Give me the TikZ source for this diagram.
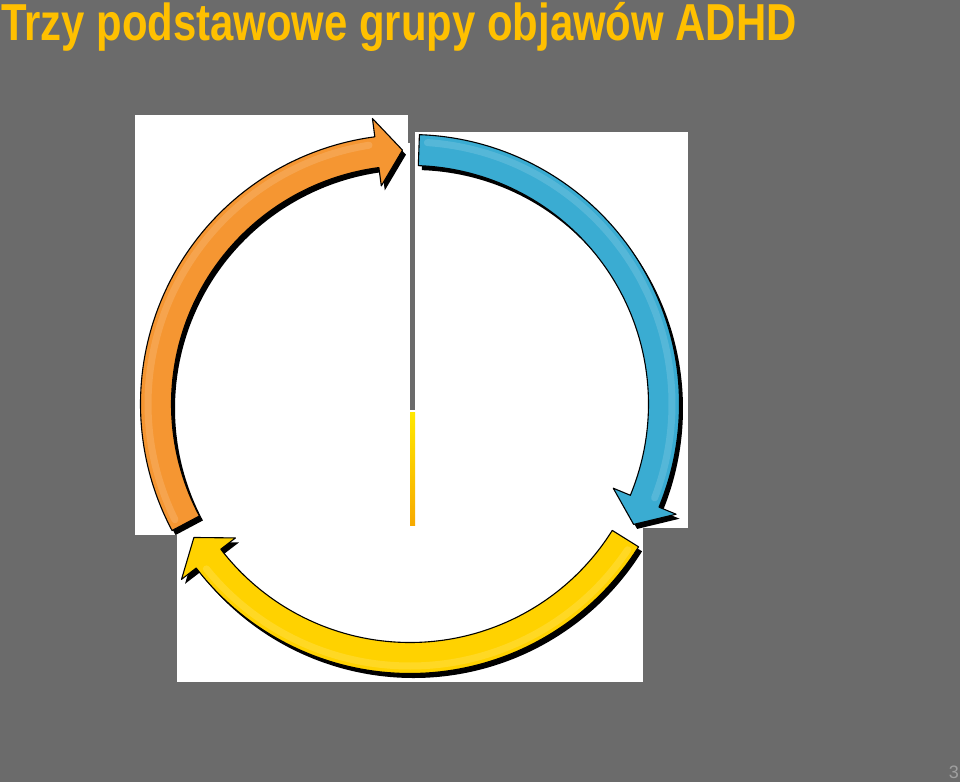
\documentclass[tikz,border=0pt]{standalone}
\usepackage{fontspec}
\setmainfont{Liberation Sans}
\usepackage{graphicx}
\definecolor{bg}{RGB}{107,107,107}
\definecolor{titlecol}{RGB}{255,192,0}
\definecolor{pagecol}{RGB}{160,160,160}
\definecolor{orangeA}{RGB}{245,150,50}
\definecolor{blueA}{RGB}{58,172,210}
\definecolor{yellowA}{RGB}{255,210,0}
\definecolor{barTop}{RGB}{255,232,0}
\definecolor{barBot}{RGB}{247,170,0}
\tikzset{
  panel/.style={fill=white},
  arrowbody/.style={line width=1.1pt, draw=black, line join=round},
  arrowshadow/.style={fill=black},
  gloss/.style={white, opacity=0.14, line width=7pt, line cap=round},
}
% #1 start angle, #2 colour
\newcommand\cyclearrow[2]{%
  \pgfmathsetmacro\cb{#1-110.5}%
  \pgfmathsetmacro\ct{#1-116.3}%
  \begin{scope}[shift={(410,404)}, yscale=-1]
    \fill[arrowshadow, shift={(3.5,-4.5)}] (#1:269.5) arc[start angle=#1, end angle=\cb, radius=269.5]
      -- (\cb:288) -- (\ct:254) -- (\cb:220) -- (\cb:238.5)
      arc[start angle=\cb, end angle=#1, radius=238.5] -- cycle;
    \filldraw[arrowbody, fill=#2] (#1:269.5) arc[start angle=#1, end angle=\cb, radius=269.5]
      -- (\cb:288) -- (\ct:254) -- (\cb:220) -- (\cb:238.5)
      arc[start angle=\cb, end angle=#1, radius=238.5] -- cycle;
    \pgfmathsetmacro\gs{#1-1.8}%
    \pgfmathsetmacro\ge{#1-109}%
    \draw[gloss] (\gs:262) arc[start angle=\gs, end angle=\ge, radius=262];
  \end{scope}%
}
\begin{document}
\begin{tikzpicture}[x=1pt, y=-1pt]
  \useasboundingbox (0,0) rectangle (960,782);
  \fill[bg] (0,0) rectangle (960,782);
  % white panels
  \fill[panel] (135,115) rectangle (408,535);
  \fill[panel] (408,143) rectangle (410,535);
  \fill[panel] (415,132) rectangle (688,528);
  \fill[panel] (177,528) rectangle (643,682);
  \fill[panel] (408,410) rectangle (415,535);
  % yellow bar
  \shade[top color=barTop, bottom color=barBot] (410,412) rectangle (415,525);
  % cycle arrows
  \cyclearrow{208}{orangeA}
  \cyclearrow{88}{blueA}
  \cyclearrow{-32}{yellowA}
  % title
  \node[anchor=base west, inner sep=0, text=titlecol,
        font=\bfseries\fontsize{52}{60}\selectfont] (title) at (1,40)
        {\scalebox{0.805}[1]{Trzy podstawowe grupy objawów ADHD}};
  % page number
  \node[anchor=base east, inner sep=0, text=pagecol,
        font=\fontsize{18}{20}\selectfont] (pnum) at (959,778) {3};
\end{tikzpicture}
\end{document}
